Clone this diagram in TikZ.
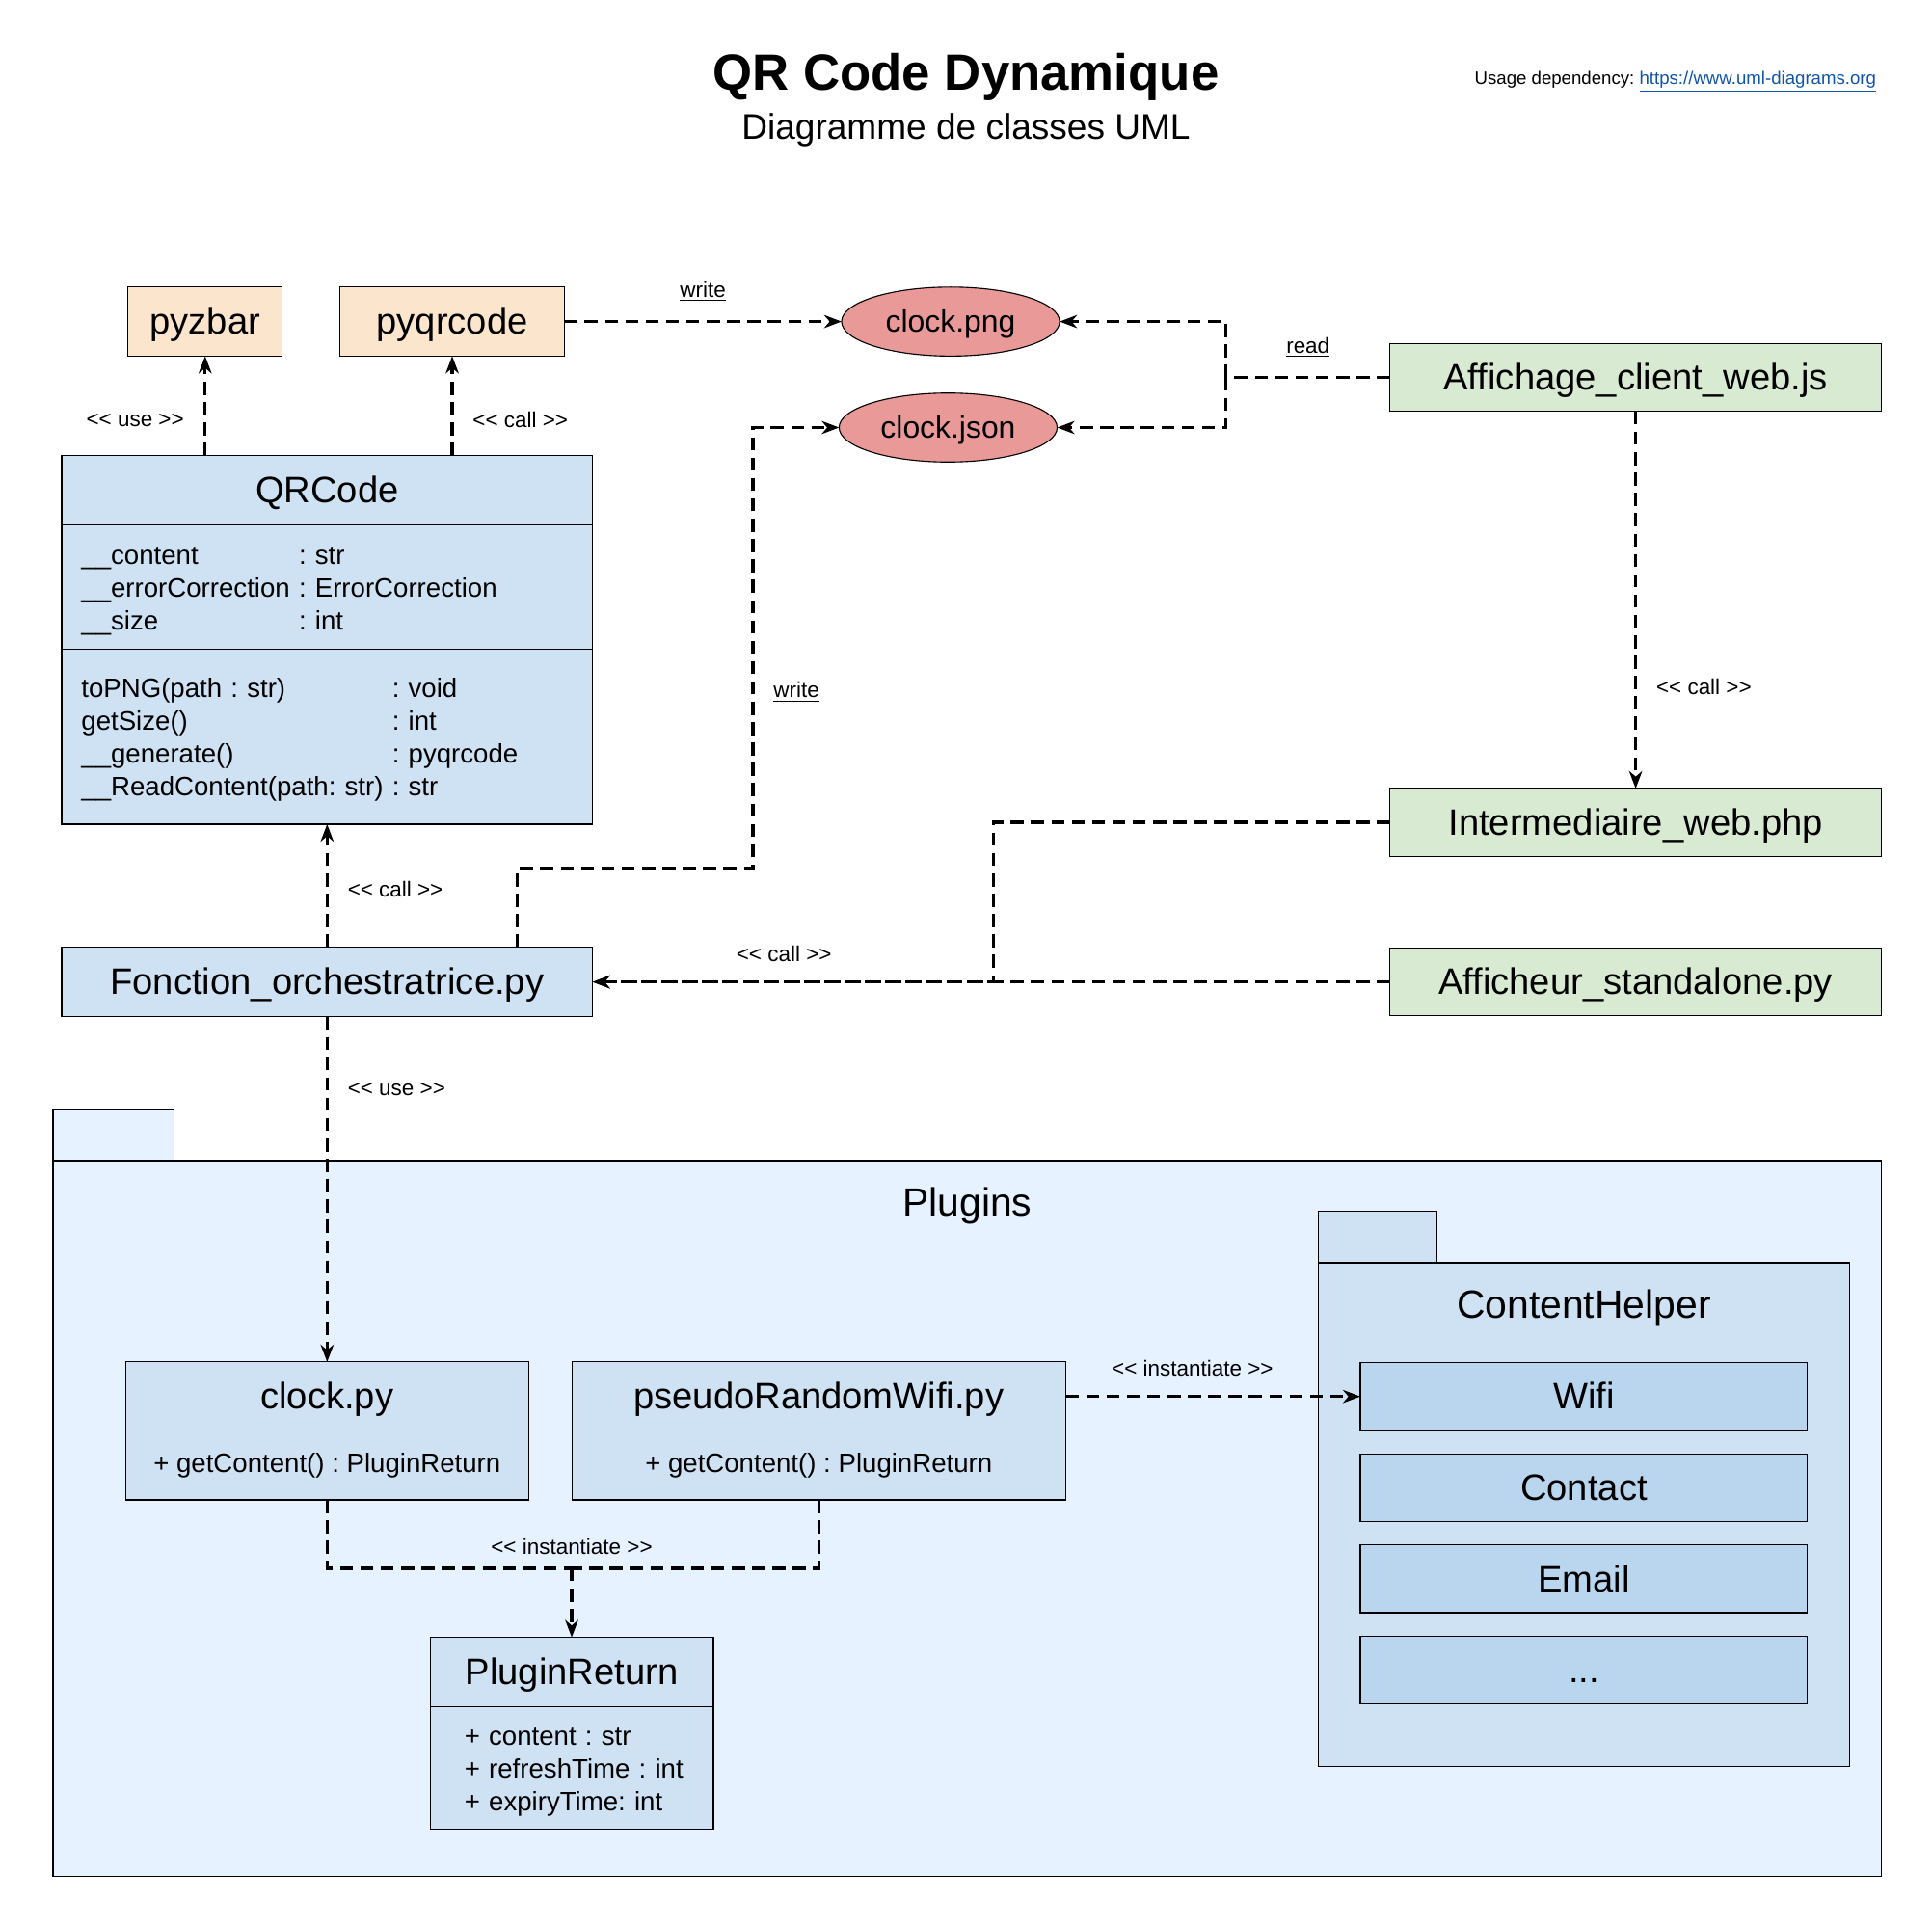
\documentclass[tikz,border=0pt]{standalone}
\usepackage{fontspec}
\setmainfont{Liberation Sans}
\frenchspacing
\usetikzlibrary{positioning,shapes.geometric,arrows.meta}

\definecolor{libfill}{HTML}{FCE5CD}
\definecolor{clsfill}{HTML}{CFE2F3}
\definecolor{webfill}{HTML}{D9EAD3}
\definecolor{filefill}{HTML}{EA9999}
\definecolor{pkgfill}{HTML}{E6F2FF}
\definecolor{helperfill}{HTML}{BAD6EF}
\definecolor{linkblue}{HTML}{1155A8}

\newcommand{\namefont}{\fontsize{17}{20.4}\selectfont}
\newcommand{\pkgfont}{\fontsize{18.2}{21.8}\selectfont}
\newcommand{\memfont}{\fontsize{12.3}{15.1}\selectfont}
\newcommand{\lblfont}{\fontsize{10}{12}\selectfont}
\newcommand{\filefont}{\fontsize{14.2}{17}\selectfont}
\newcommand{\stereo}[1]{<\kern0pt< #1 >\kern0pt>}
\newcommand{\lowered}[1]{\raisebox{-1.7pt}[\height][\depth]{#1}}

\tikzset{
	box/.style={rectangle, draw, line width=0.5pt, outer sep=0pt, inner sep=0pt},
	namebox/.style={box, font=\namefont, text height=15.4pt, text depth=3.6pt},
	libbox/.style={namebox, fill=libfill, minimum height=1.12cm},
	webbox/.style={namebox, fill=webfill, minimum width=7.98cm, minimum height=1.1cm},
	clshead/.style={namebox, fill=clsfill, minimum width=8.62cm, minimum height=1.12cm},
	clsbody/.style={box, fill=clsfill, font=\memfont, minimum height=1.12cm},
	helper/.style={namebox, fill=helperfill, minimum width=7.26cm, minimum height=1.1cm},
	pkgbox/.style={box, anchor=north west},
	filenode/.style={ellipse, draw, line width=0.5pt, fill=filefill, minimum width=3.54cm,
		minimum height=1.12cm, inner sep=0pt, outer sep=0pt, font=\filefont, text height=12.9pt, text depth=3pt},
	lbl/.style={font=\lblfont, inner sep=0pt},
	dep/.style={draw, line width=1.45pt, dash pattern=on 6pt off 3.4pt, -{Stealth[length=8pt, width=6pt, inset=2.5pt]}}
}

\begin{document}
\begin{tikzpicture}[x=0.02cm, y=-0.02cm]
	\fill[white] (0,0) rectangle (1568,1563);
	\useasboundingbox (0,0) rectangle (1568,1563);

	% title
	\node[font=\fontsize{23.5}{28}\selectfont\bfseries] (title) at (784,62.5) {QR Code Dynamique};
	\node[font=\fontsize{16.5}{20}\selectfont] (subtitle) at (784,105.5) {Diagramme de classes UML};
	\node[anchor=east, inner sep=0pt, font=\fontsize{8.3}{10}\selectfont] (usage) at (1523,66.5) {Usage dependency: \textcolor{linkblue}{\underline{https://www.uml-diagrams.org}}};

	% packages
	\node[pkgbox, fill=pkgfill, minimum width=1.96cm, minimum height=0.84cm] (plugtab) at (43,900) {};
	\node[pkgbox, fill=pkgfill, minimum width=29.68cm, minimum height=11.62cm] (plugins) at (43,942) {};
	\node[font=\pkgfont] (plugname) at (785,979) {Plugins};
	\node[pkgbox, fill=clsfill, minimum width=1.92cm, minimum height=0.84cm] (helpertab) at (1070,983) {};
	\node[pkgbox, fill=clsfill, minimum width=8.62cm, minimum height=8.18cm] (helperpkg) at (1070,1025) {};
	\node[font=\pkgfont] (helpername) at (1285.5,1062) {ContentHelper};

	\node[helper] (wifi) at (1285.5,1133.5) {Wifi};
	\node[helper, below=0.38cm of wifi] (contact) {Contact};
	\node[helper, below=0.38cm of contact] (email) {Email};
	\node[helper, below=0.38cm of email] (more) {...};

	% libraries and files
	\node[libbox, minimum width=2.5cm] (pyzbar) at (166.5,261) {pyzbar};
	\node[libbox, minimum width=3.64cm] (pyqrcode) at (367,261) {pyqrcode};
	\node[filenode] (clockpng) at (771.5,261) {clock.png};
	\node[filenode] (clockjson) at (769.5,347) {clock.json};

	% web side
	\node[webbox] (affichage) at (1327.5,306.5) {Affichage\_client\_web.js};
	\node[webbox] (intermediaire) at (1327.5,667.5) {Intermediaire\_web.php};
	\node[webbox] (afficheur) at (1327.5,797) {Afficheur\_standalone.py};

	% QRCode class
	\node[clshead] (qrcode) at (265.5,398) {QRCode};
	\node[clsbody, below=0pt of qrcode, minimum height=2.02cm, text width=7.98cm, inner xsep=0.32cm, align=left] (qrattr) {%
		\lowered{\begin{tabular}{@{}l@{ }l@{}}
			\_\_content & : str\\
			\_\_errorCorrection & : ErrorCorrection\\
			\_\_size & : int
		\end{tabular}}};
	\node[clsbody, below=0pt of qrattr, minimum height=2.84cm, text width=7.98cm, inner xsep=0.32cm, align=left] (qrmeth) {%
		\lowered{\begin{tabular}{@{}l@{ }l@{}}
			toPNG(path : str) & : void\\
			getSize() & : int\\
			\_\_generate() & : pyqrcode\\
			\_\_ReadContent(path: str) & : str
		\end{tabular}}};

	\node[clshead] (fonction) at (265.5,797) {Fonction\_orchestratrice.py};

	% plugins
	\node[clshead, minimum width=6.54cm] (clockpy) at (265.5,1133.5) {clock.py};
	\node[clsbody, minimum width=6.54cm, below=0pt of clockpy] (clockbody) {+ getContent() : PluginReturn};
	\node[clshead, minimum width=8.02cm] (prwifi) at (664.5,1133.5) {pseudoRandomWifi.py};
	\node[clsbody, minimum width=8.02cm, below=0pt of prwifi] (prbody) {+ getContent() : PluginReturn};
	\node[clshead, minimum width=4.6cm] (preturn) at (464,1357) {PluginReturn};
	\node[clsbody, below=0pt of preturn, minimum height=2cm, text width=3.48cm, inner xsep=0.56cm, align=left] (pretbody) {%
		\lowered{\begin{tabular}{@{}l@{}}
			+ content : str\\
			+ refreshTime : int\\
			+ expiryTime: int
		\end{tabular}}};

	% dependencies
	\draw[dep] (pyzbar.south |- qrcode.north) -- node[lbl, pos=.36, left=0.32cm] {\stereo{use}} (pyzbar.south);
	\draw[dep] (pyqrcode.south |- qrcode.north) -- node[lbl, pos=.36, right=0.31cm] {\stereo{call}} (pyqrcode.south);
	\draw[dep] (pyqrcode.east) -- node[lbl, above=0.3cm] {\underline{write}} (clockpng.west);

	\coordinate (rbend) at ([xshift=-2.66cm]affichage.west);
	\draw[dep, -] (affichage.west) -- node[lbl, above=0.3cm] {\underline{read}} (rbend);
	\draw[dep] (rbend) |- (clockpng.east);
	\draw[dep] (rbend) |- (clockjson.east);

	\coordinate (wbend) at (611,705);
	\draw[dep] ([xshift=3.09cm]fonction.north) |- (wbend) |- node[lbl, pos=.2, right=0.31cm] {\underline{write}} (clockjson.west);

	\draw[dep] (fonction.north) -- node[lbl, pos=.47, right=0.31cm] {\stereo{call}} (qrmeth.south);
	\draw[dep] (affichage.south) -- node[lbl, pos=.73, right=0.31cm] {\stereo{call}} (intermediaire.north);

	\coordinate (cbend) at ([xshift=-6.44cm]afficheur.west);
	\draw[dep] (intermediaire.west) -| (cbend) -- (fonction.east);
	\draw[dep] (afficheur.west) -- node[lbl, pos=.76, above=0.3cm] {\stereo{call}} (fonction.east);

	\draw[dep] (fonction.south) -- node[lbl, pos=.21, right=0.31cm] {\stereo{use}} (clockpy.north);
	\draw[dep] (prwifi.east) -- node[lbl, pos=.43, above=0.3cm] {\stereo{instantiate}} (wifi.west);

	\coordinate (pjoin) at ([yshift=1.12cm]preturn.north);
	\draw[dep, -] (clockbody.south) |- node[lbl, pos=1, above=0.2cm] {\stereo{instantiate}} (pjoin);
	\draw[dep, -] (prbody.south) |- (pjoin);
	\draw[dep] (pjoin) -- (preturn.north);
\end{tikzpicture}
\end{document}
